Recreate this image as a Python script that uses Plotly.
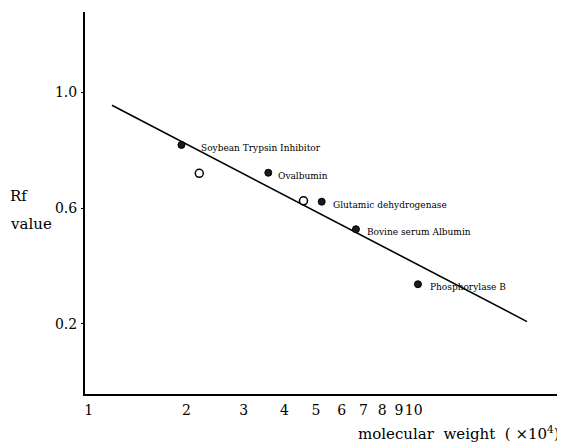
import numpy as np
import plotly.graph_objects as go

# Marker proteins (filled circles), molecular weight in units of 10^4
std_names = ["Soybean Trypsin Inhibitor", "Ovalbumin", "Glutamic dehydrogenase",
             "Bovine serum Albumin", "Phosphorylase B"]
std_mw = [1.93, 3.57, 5.21, 6.64, 10.3]
std_rf = [0.818, 0.722, 0.622, 0.527, 0.337]

# Unknown samples (open circles)
sample_mw = [2.19, 4.58]
sample_rf = [0.720, 0.625]

# Calibration line endpoints
line_mw = [1.18, 22.3]
line_rf = [0.955, 0.208]

x_ticks = [1, 2, 3, 4, 5, 6, 7, 8, 9, 10]
x_ticktext = ["1", "2", "3", "4", "5", "6", "7", "8", "9", "10"]
y_ticks = [0.2, 0.6, 1.0]
y_ticktext = ["0.2", "0.6", "1.0"]

SERIF = "DejaVu Serif"

fig = go.Figure()
fig.add_trace(go.Scatter(x=line_mw, y=line_rf, mode="lines",
                         line=dict(color="black", width=1.6), hoverinfo="skip",
                         showlegend=False))
fig.add_trace(go.Scatter(x=std_mw, y=std_rf, mode="markers",
                         marker=dict(color="#1a1a1a", size=7,
                                     line=dict(color="black", width=1)),
                         showlegend=False))
fig.add_trace(go.Scatter(x=sample_mw, y=sample_rf, mode="markers",
                         marker=dict(color="white", size=8,
                                     line=dict(color="black", width=1.5)),
                         showlegend=False))

annotations = []
shifts = [18, 8, 9, 9, 10]
for name, mw, rf, sh in zip(std_names, std_mw, std_rf, shifts):
    annotations.append(dict(x=np.log10(mw), y=rf, xref="x", yref="y",
                            text=name, showarrow=False, xanchor="left",
                            yanchor="middle", xshift=sh, yshift=-3,
                            font=dict(family=SERIF, size=9, color="black")))

annotations += [
    dict(x=-0.160, y=0.518, xref="paper", yref="paper", text="Rf",
         showarrow=False, xanchor="left", yanchor="middle",
         font=dict(family=SERIF, size=15, color="black")),
    dict(x=-0.160, y=0.445, xref="paper", yref="paper", text="value",
         showarrow=False, xanchor="left", yanchor="middle",
         font=dict(family=SERIF, size=15, color="black")),
    dict(x=0.994, y=-0.102, xref="paper", yref="paper",
         text="molecular  weight  ( ×10<sup>4</sup>)",
         showarrow=False, xanchor="right", yanchor="middle",
         font=dict(family=SERIF, size=15, color="black")),
]

# The page body has an 8px margin, so the figure is sized to fit the window.
fig.update_layout(
    width=557, height=436,
    margin=dict(l=77, r=0, t=4, b=50),
    paper_bgcolor="white", plot_bgcolor="white",
    annotations=annotations,
    xaxis=dict(type="log", range=[-0.011, 1.465],
               tickvals=x_ticks, ticktext=x_ticktext, tickangle=0,
               showgrid=False, zeroline=False,
               showline=True, linecolor="black", linewidth=2,
               ticks="", ticklabelstandoff=2,
               tickfont=dict(family=SERIF, size=14, color="black")),
    yaxis=dict(range=[-0.042, 1.277],
               tickvals=y_ticks, ticktext=y_ticktext,
               showgrid=False, zeroline=False,
               showline=True, linecolor="black", linewidth=2,
               ticks="outside", ticklen=2, tickcolor="black",
               ticklabelstandoff=1,
               tickfont=dict(family=SERIF, size=14, color="black")),
)

fig.write_html("out.html")
